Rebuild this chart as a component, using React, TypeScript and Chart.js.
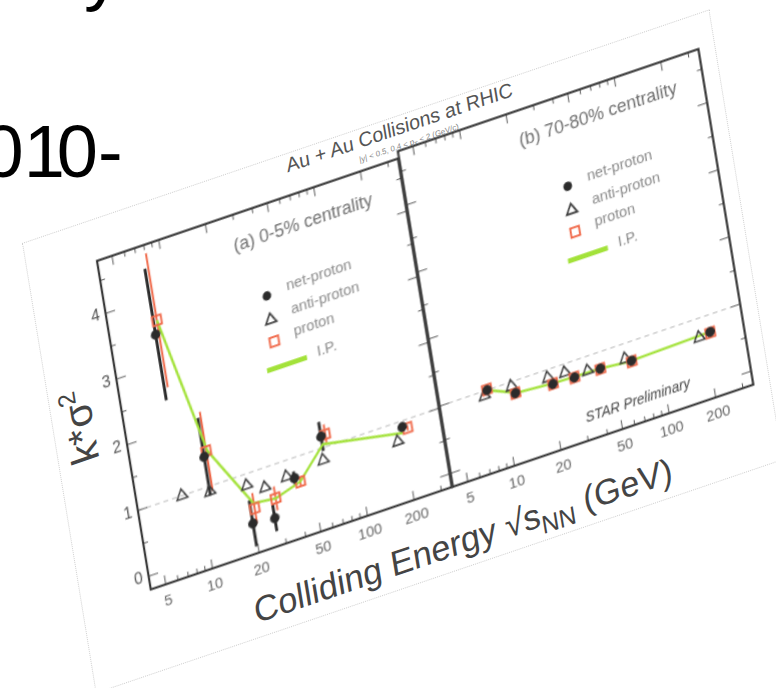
import React, { useEffect, useRef } from 'react';
import { Chart, registerables } from 'chart.js';

Chart.register(...registerables);

const FONT = '"Liberation Sans", Arial, Helvetica, sans-serif';

// ---- data ----
const NET_X_A = [7.7, 11.5, 19.6, 27, 39, 62.4, 200];
const NET_X_B = [8.1, 12.0, 20.8, 28.6, 42, 66.5, 215];
const ANTI_X = [7.7, 11.5, 19.6, 25.2, 35, 61, 182];
const PRO_X = [8.1, 12.0, 20.8, 28.6, 42, 66.5, 215];
const IP_X = [8.1, 12.2, 20.7, 28.6, 42, 63, 200];

// (a) 0-5% centrality
const NET_A = [3.45, 1.45, 0.25, 0.22, 0.7, 1.17, 0.91];
const NET_ERR_A = [1.0, 0.59, 0.35, 0.2, 0.1, 0.22, 0.05];
const ANTI_A = [1.0, 0.92, 0.83, 0.71, 0.76, 0.82, 0.72];
const PRO_A = [3.65, 1.52, 0.46, 0.5, 0.62, 1.18, 0.87];
const PRO_ERR_A = [1.02, 0.6, 0.23, 0.18, 0.08, 0.15, 0.04];
const IP_A = [3.65, 1.52, 0.54, 0.5, 0.62, 1.05, 0.82];

// (b) 70-80% centrality
const NET_B = [1.0, 0.82, 0.77, 0.76, 0.76, 0.72, 0.75];
const ANTI_B = [0.93, 0.94, 0.885, 0.875, 0.79, 0.78, 0.725];
const PRO_B = [1.01, 0.82, 0.77, 0.76, 0.755, 0.71, 0.74];
const IP_B = [1.0, 0.82, 0.78, 0.77, 0.76, 0.72, 0.75];

// axes
const X_MIN = 4;
const X_MAX = 350;
const Y_MIN = -0.2;
const Y_MAX = 4.8;
const X_LABEL_TICKS = [5, 10, 20, 50, 100, 200];
const X_MINOR_TICKS = [6, 7, 8, 9, 30, 40, 60, 70, 80, 90, 300];
const Y_LABEL_TICKS = [0, 1, 2, 3, 4];
const Y_MINOR_TICKS = [0.5, 1.5, 2.5, 3.5, 4.5];
const REF_LINE = 1;

const LEGEND_LABELS = ['net-proton', 'anti-proton', 'proton', 'I.P.'];

const RED = '#f0694a';
const GREEN = '#a3e23a';
const DARK = '#2b2b2b';

const pts = (xs: number[], ys: number[]) => xs.map((x, i) => ({ x, y: ys[i] }));

type PanelCfg = {
  label: string;
  labelX: number;
  labelY: number;
  showYLabels: boolean;
  star: boolean;
  netX: number[];
  net: number[];
  netErr: number[] | null;
  anti: number[];
  pro: number[];
  proErr: number[] | null;
  ip: number[];
};

function makeDeco(cfg: PanelCfg) {
  return {
    id: 'deco',
    beforeDatasetsDraw(chart: any) {
      const { ctx, chartArea: a, scales } = chart;
      const x = scales.x;
      const y = scales.y;
      ctx.save();
      const py = y.getPixelForValue(REF_LINE);
      ctx.setLineDash([5, 4]);
      ctx.strokeStyle = '#b4b4b4';
      ctx.lineWidth = 1;
      ctx.beginPath();
      ctx.moveTo(a.left, py);
      ctx.lineTo(a.right, py);
      ctx.stroke();
      ctx.setLineDash([]);
      const bars = (xs: number[], ys: number[], es: number[] | null, color: string, w: number) => {
        if (!es) return;
        ctx.strokeStyle = color;
        ctx.lineWidth = w;
        ctx.beginPath();
        xs.forEach((xv, i) => {
          const px = x.getPixelForValue(xv);
          ctx.moveTo(px, y.getPixelForValue(ys[i] + es[i]));
          ctx.lineTo(px, y.getPixelForValue(ys[i] - es[i]));
        });
        ctx.stroke();
      };
      bars(cfg.netX, cfg.net, cfg.netErr, DARK, 3);
      bars(PRO_X, cfg.pro, cfg.proErr, RED, 2);
      ctx.restore();
    },
    afterDatasetsDraw(chart: any) {
      const { ctx, chartArea: a, scales } = chart;
      const x = scales.x;
      const y = scales.y;
      ctx.save();
      ctx.strokeStyle = '#555';
      ctx.lineWidth = 1;
      ctx.beginPath();
      const seg = (x1: number, y1: number, x2: number, y2: number) => {
        ctx.moveTo(x1, y1);
        ctx.lineTo(x2, y2);
      };
      X_LABEL_TICKS.forEach((v) => {
        const p = x.getPixelForValue(v);
        seg(p, a.bottom, p, a.bottom - 9);
        seg(p, a.top, p, a.top + 9);
      });
      X_MINOR_TICKS.forEach((v) => {
        const p = x.getPixelForValue(v);
        seg(p, a.bottom, p, a.bottom - 5);
        seg(p, a.top, p, a.top + 5);
      });
      Y_LABEL_TICKS.forEach((v) => {
        const p = y.getPixelForValue(v);
        seg(a.left, p, a.left + 10, p);
        seg(a.right, p, a.right - 10, p);
      });
      Y_MINOR_TICKS.forEach((v) => {
        const p = y.getPixelForValue(v);
        seg(a.left, p, a.left + 5, p);
        seg(a.right, p, a.right - 5, p);
      });
      ctx.stroke();
      ctx.strokeStyle = '#333';
      ctx.lineWidth = 2.2;
      ctx.strokeRect(a.left, a.top, a.right - a.left, a.bottom - a.top);

      // panel label
      ctx.fillStyle = '#707070';
      ctx.font = `18px ${FONT}`;
      ctx.textAlign = 'center';
      ctx.textBaseline = 'middle';
      ctx.fillText(cfg.label, a.left + cfg.labelX, a.top + cfg.labelY);

      // legend
      const mx = a.left + 164;
      const rows = [a.top + 89, a.top + 113, a.top + 135, a.top + 161];
      ctx.fillStyle = DARK;
      ctx.beginPath();
      ctx.arc(mx, rows[0], 4.5, 0, Math.PI * 2);
      ctx.fill();
      ctx.strokeStyle = '#3a3a3a';
      ctx.lineWidth = 1.8;
      ctx.beginPath();
      for (let k = 0; k < 3; k++) {
        const ang = (k * 2 * Math.PI) / 3;
        const px = mx + Math.sin(ang) * 6.5;
        const py2 = rows[1] - Math.cos(ang) * 6.5;
        if (k === 0) ctx.moveTo(px, py2);
        else ctx.lineTo(px, py2);
      }
      ctx.closePath();
      ctx.stroke();
      ctx.strokeStyle = RED;
      ctx.lineWidth = 2;
      ctx.strokeRect(mx - 4.6, rows[2] - 4.6, 9.2, 9.2);
      ctx.strokeStyle = GREEN;
      ctx.lineWidth = 5;
      ctx.beginPath();
      ctx.moveTo(a.left + 152, rows[3]);
      ctx.lineTo(a.left + 194, rows[3]);
      ctx.stroke();

      ctx.fillStyle = '#8a8a8a';
      ctx.font = `15px ${FONT}`;
      ctx.textAlign = 'left';
      ctx.fillText(LEGEND_LABELS[0], a.left + 185, rows[0] - 3);
      ctx.fillText(LEGEND_LABELS[1], a.left + 186, rows[1] - 3);
      ctx.fillText(LEGEND_LABELS[2], a.left + 185, rows[2] - 3);
      ctx.fillText(LEGEND_LABELS[3], a.left + 205, rows[3] - 2);

      if (cfg.star) {
        ctx.fillStyle = '#444';
        ctx.font = `italic 14px ${FONT}`;
        ctx.textAlign = 'center';
        ctx.fillText('STAR Preliminary', a.left + 199, a.top + 318);
      }
      ctx.restore();
    },
  };
}

function makePanel(canvas: HTMLCanvasElement, cfg: PanelCfg) {
  return new Chart(canvas, {
    type: 'scatter',
    data: {
      datasets: [
        {
          label: LEGEND_LABELS[3],
          data: pts(IP_X, cfg.ip),
          showLine: true,
          borderColor: GREEN,
          borderWidth: 2.5,
          pointRadius: 0,
          order: 4,
        } as any,
        {
          label: LEGEND_LABELS[1],
          data: pts(ANTI_X, cfg.anti),
          pointStyle: 'triangle',
          pointRadius: 6.5,
          backgroundColor: 'rgba(0,0,0,0)',
          borderColor: '#3a3a3a',
          borderWidth: 1.6,
          order: 3,
        },
        {
          label: LEGEND_LABELS[2],
          data: pts(PRO_X, cfg.pro),
          pointStyle: 'rect',
          pointRadius: 6.5,
          backgroundColor: 'rgba(0,0,0,0)',
          borderColor: RED,
          borderWidth: 2,
          order: 2,
        },
        {
          label: LEGEND_LABELS[0],
          data: pts(cfg.netX, cfg.net),
          pointStyle: 'circle',
          pointRadius: 4.5,
          backgroundColor: DARK,
          borderColor: DARK,
          borderWidth: 1,
          order: 1,
        },
      ],
    },
    options: {
      responsive: false,
      animation: false,
      events: [],
      layout: { padding: { top: 8, right: 8, bottom: 0, left: cfg.showYLabels ? 0 : 8 } },
      plugins: {
        legend: { display: false },
        tooltip: { enabled: false },
        title: { display: false },
      },
      scales: {
        x: {
          type: 'logarithmic',
          min: X_MIN,
          max: X_MAX,
          grid: { display: false, drawTicks: false },
          border: { display: false },
          afterBuildTicks: (s: any) => {
            s.ticks = X_LABEL_TICKS.map((v) => ({ value: v }));
          },
          afterFit: (s: any) => {
            s.height = 30;
          },
          ticks: {
            autoSkip: false,
            maxRotation: 0,
            minRotation: 0,
            padding: 8,
            color: '#666',
            font: { family: FONT, size: 15 },
            callback: (v: any) => String(v),
          },
        },
        y: {
          min: Y_MIN,
          max: Y_MAX,
          grid: { display: false, drawTicks: false },
          border: { display: false },
          afterBuildTicks: (s: any) => {
            s.ticks = Y_LABEL_TICKS.map((v) => ({ value: v }));
          },
          afterFit: (s: any) => {
            s.width = cfg.showYLabels ? 40 : 0;
          },
          ticks: {
            display: cfg.showYLabels,
            padding: 6,
            color: '#555',
            font: { family: FONT, size: 16 },
            callback: (v: any) => String(v),
          },
        },
      },
    } as any,
    plugins: [makeDeco(cfg) as any],
  });
}

export default function App() {
  const leftRef = useRef<HTMLCanvasElement>(null);
  const rightRef = useRef<HTMLCanvasElement>(null);

  useEffect(() => {
    const c1 = makePanel(leftRef.current!, {
      label: '(a) 0-5% centrality',
      labelX: 212,
      labelY: 31,
      showYLabels: true,
      star: false,
      netX: NET_X_A,
      net: NET_A,
      netErr: NET_ERR_A,
      anti: ANTI_A,
      pro: PRO_A,
      proErr: PRO_ERR_A,
      ip: IP_A,
    });
    const c2 = makePanel(rightRef.current!, {
      label: '(b) 70-80% centrality',
      labelX: 206,
      labelY: 31,
      showYLabels: false,
      star: true,
      netX: NET_X_B,
      net: NET_B,
      netErr: null,
      anti: ANTI_B,
      pro: PRO_B,
      proErr: null,
      ip: IP_B,
    });
    return () => {
      c1.destroy();
      c2.destroy();
    };
  }, []);

  return (
    <div
      style={{
        position: 'fixed',
        left: 0,
        top: 0,
        width: 776,
        height: 688,
        overflow: 'hidden',
        background: '#fff',
        fontFamily: FONT,
      }}
    >
      <div style={{ position: 'absolute', left: 84, top: -65, fontSize: 74, lineHeight: '74px', color: '#000' }}>y</div>
      <div style={{ position: 'absolute', left: -58.7, top: 115.4, fontSize: 74, lineHeight: '74px', color: '#000', whiteSpace: 'nowrap' }}>
        20<span style={{ letterSpacing: -8 }}>1</span>0-
      </div>

      <div
        style={{
          position: 'absolute',
          left: 22.24,
          top: 242.6,
          width: 725,
          height: 456,
          transformOrigin: '0 0',
          transform: 'matrix(0.9481, -0.3223, 0.1618, 0.9882, 0, 0)',
        }}
      >
        <div
          style={{
            position: 'absolute',
            left: 0,
            top: 0,
            width: 725,
            height: 456,
            boxSizing: 'border-box',
            border: '1px dotted #cfcfcf',
          }}
        />
        <div
          style={{
            position: 'absolute',
            left: 196,
            width: 400,
            top: 1.5,
            fontSize: 20,
            lineHeight: '20px',
            textAlign: 'center',
            color: '#555',
            whiteSpace: 'nowrap',
          }}
        >
          Au + Au Collisions at RHIC
        </div>
        <div
          style={{
            position: 'absolute',
            left: 253,
            width: 300,
            top: 26.5,
            fontSize: 8,
            lineHeight: '8px',
            textAlign: 'center',
            color: '#888',
            whiteSpace: 'nowrap',
          }}
        >
          |y| &lt; 0.5, 0.4 &lt; p<sub style={{ fontSize: 6, lineHeight: 0 }}>T</sub> &lt; 2 (GeV/c)
        </div>
        <div
          style={{
            position: 'absolute',
            left: -72,
            top: 175,
            width: 200,
            height: 40,
            lineHeight: '40px',
            fontSize: 40,
            textAlign: 'center',
            color: '#444',
            transform: 'rotate(-90deg)',
            whiteSpace: 'nowrap',
          }}
        >
          k*σ<sup style={{ fontSize: 25, lineHeight: 0 }}>2</sup>
        </div>
        <div
          style={{
            position: 'absolute',
            left: 92,
            width: 600,
            top: 411,
            fontSize: 35,
            lineHeight: '36px',
            textAlign: 'center',
            color: '#444',
            whiteSpace: 'nowrap',
          }}
        >
          Colliding Energy √s<sub style={{ fontSize: 25, lineHeight: 0 }}>NN</sub> (GeV)
        </div>
        <canvas
          ref={leftRef}
          width={366}
          height={378}
          style={{ position: 'absolute', left: 32, top: 26, width: 366, height: 378 }}
        />
        <canvas
          ref={rightRef}
          width={334}
          height={378}
          style={{ position: 'absolute', left: 382, top: 26, width: 334, height: 378 }}
        />
      </div>
    </div>
  );
}
